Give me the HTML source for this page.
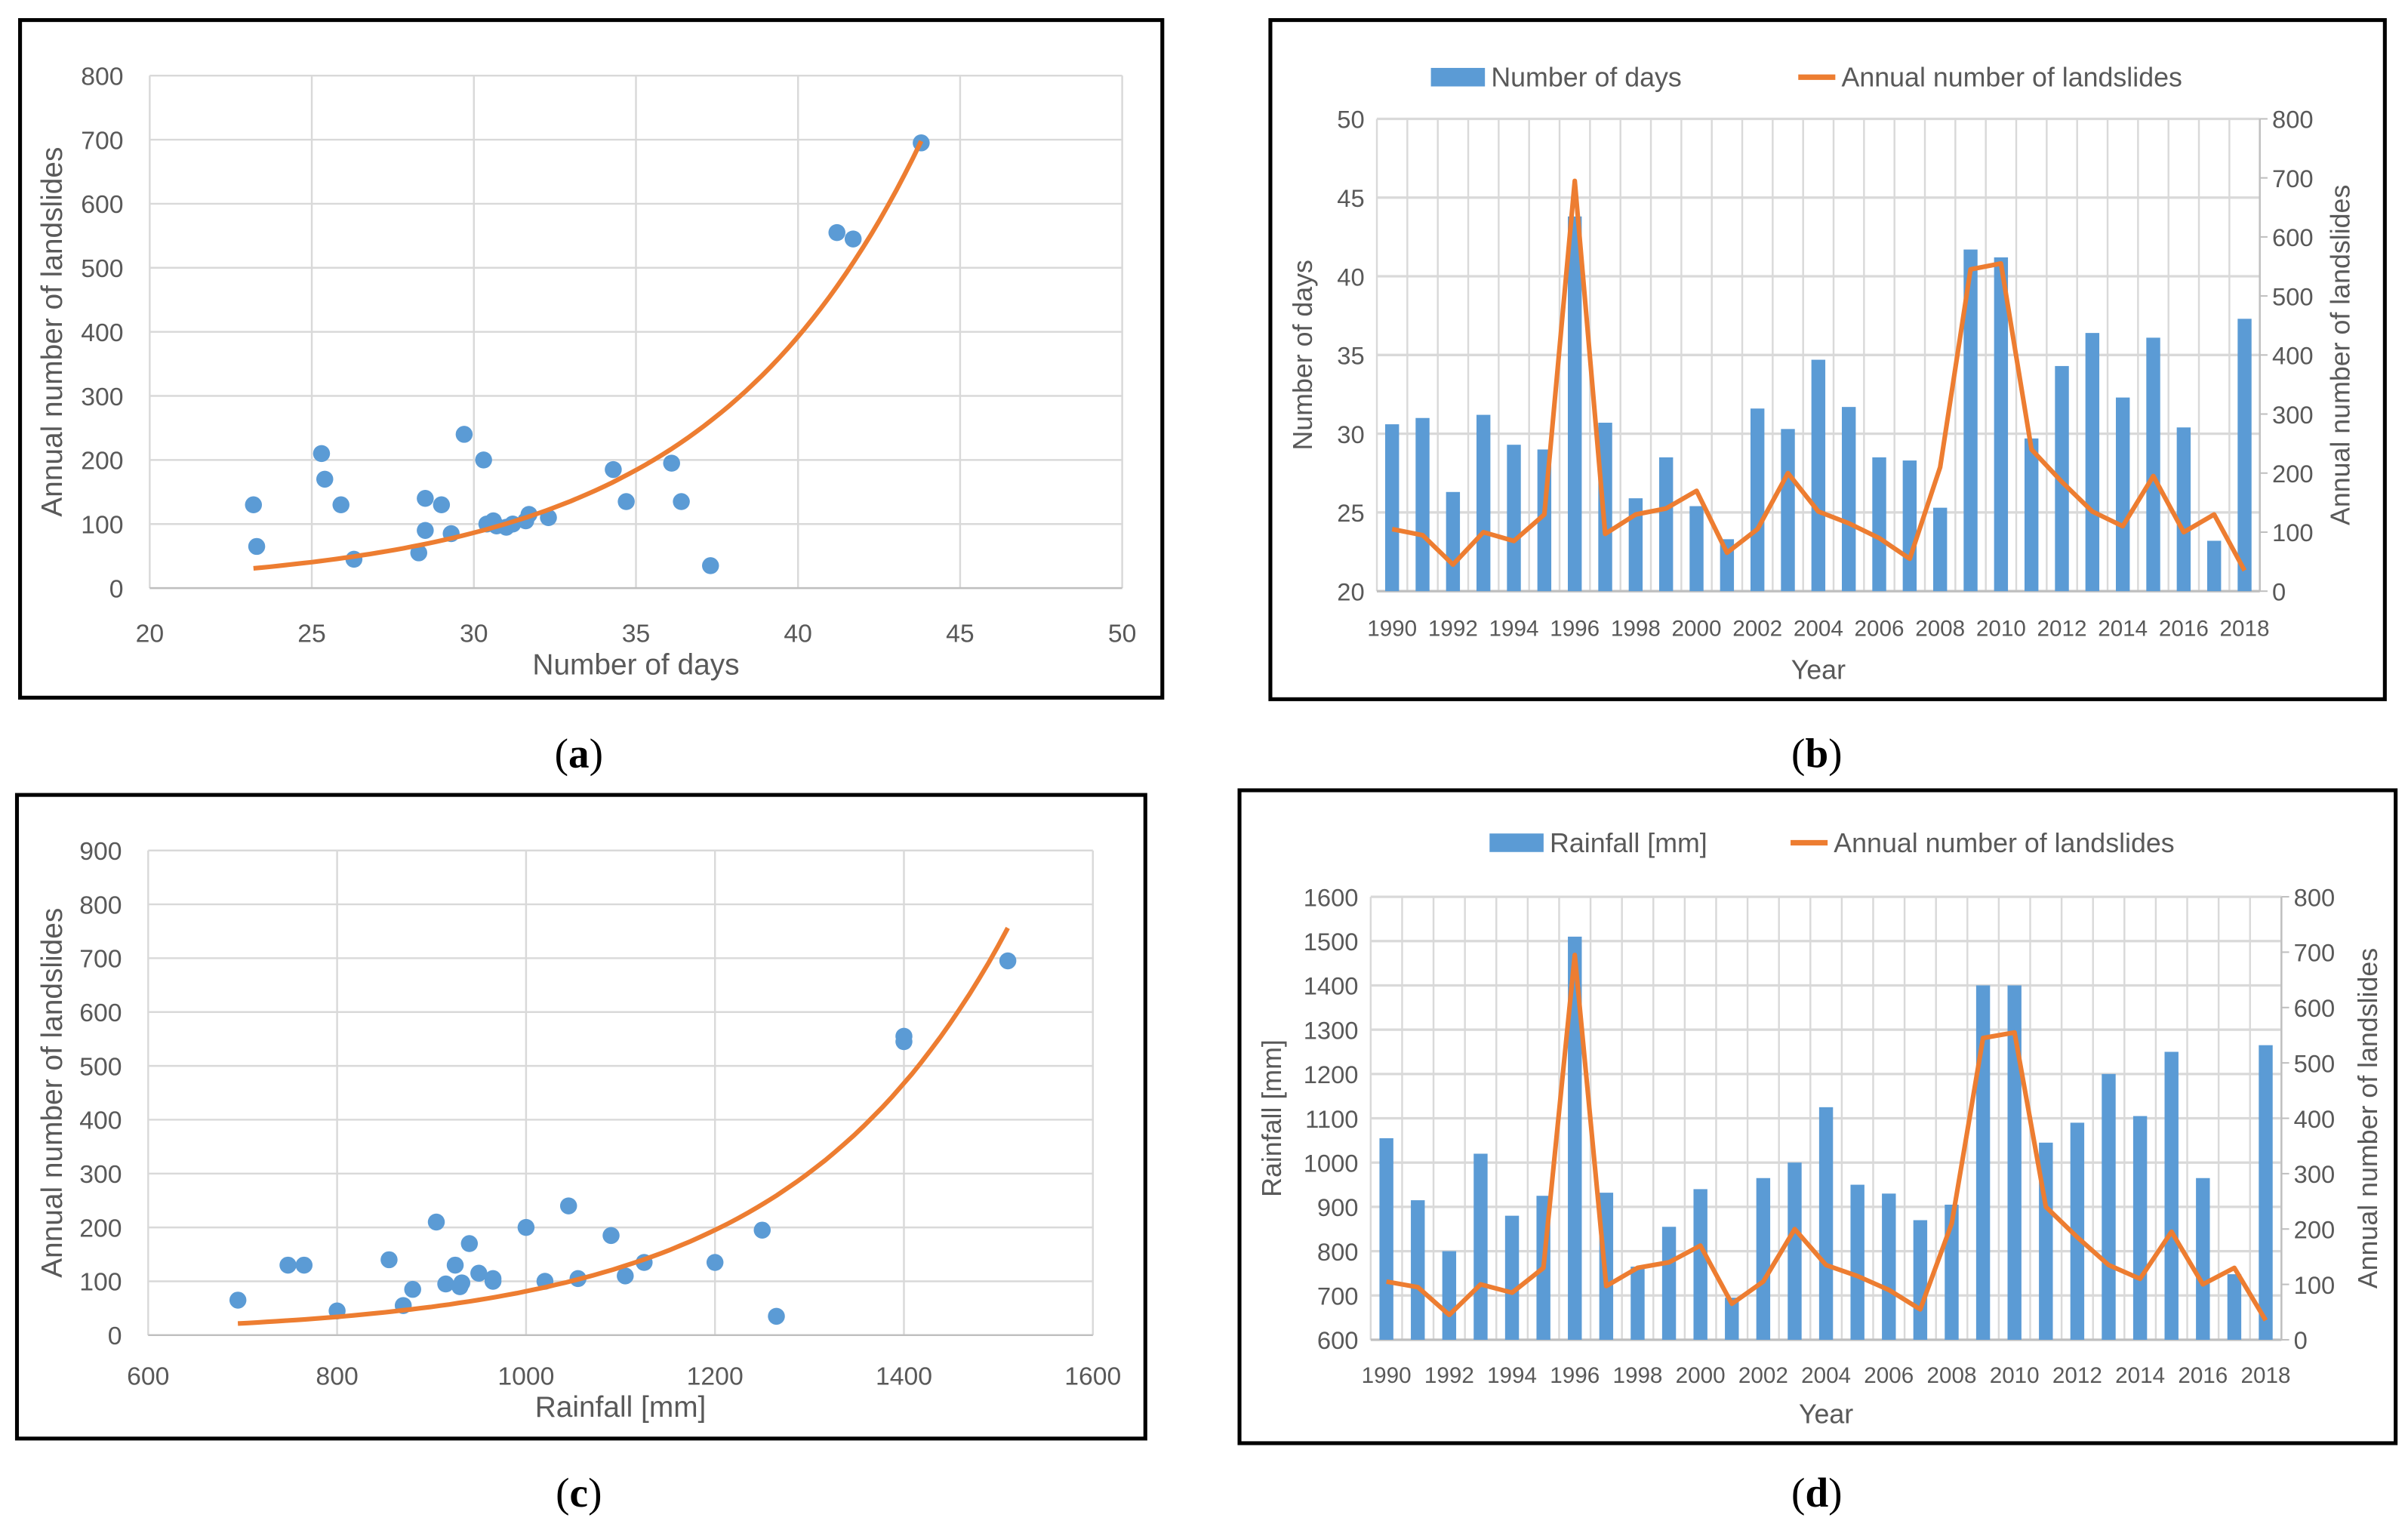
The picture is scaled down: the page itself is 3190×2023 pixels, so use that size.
<!DOCTYPE html>
<html><head><meta charset="utf-8">
<style>
html,body{margin:0;padding:0;background:#fff;}
svg{display:block;}
text{font-family:"Liberation Sans",sans-serif;fill:#595959;}
.lab{font-family:"Liberation Serif",serif;fill:#000;font-size:27px;}
</style></head>
<body>
<svg id="fig" width="3190" height="2023" viewBox="0 0 1560 989.3" preserveAspectRatio="none" xmlns="http://www.w3.org/2000/svg">
<rect x="13" y="13" width="740" height="439" fill="none" stroke="#000" stroke-width="2.5"/>
<rect x="823" y="13" width="722" height="440" fill="none" stroke="#000" stroke-width="2.5"/>
<rect x="11" y="515" width="731" height="417" fill="none" stroke="#000" stroke-width="2.5"/>
<rect x="803" y="512" width="749" height="423" fill="none" stroke="#000" stroke-width="2.5"/>
<text class="lab" x="375" y="497" text-anchor="middle">(<tspan font-weight="bold" style="fill:#000">a</tspan>)</text>
<text class="lab" x="1177" y="497" text-anchor="middle">(<tspan font-weight="bold" style="fill:#000">b</tspan>)</text>
<text class="lab" x="375" y="976" text-anchor="middle">(<tspan font-weight="bold" style="fill:#000">c</tspan>)</text>
<text class="lab" x="1177" y="976" text-anchor="middle">(<tspan font-weight="bold" style="fill:#000">d</tspan>)</text>
<g id="g"></g>
</svg>
<script>
const years = [1990,1991,1992,1993,1994,1995,1996,1997,1998,1999,2000,2001,2002,2003,2004,2005,2006,2007,2008,2009,2010,2011,2012,2013,2014,2015,2016,2017,2018];
const landslides = [105,95,45,100,85,130,695,97,130,140,170,65,105,200,135,115,90,55,210,545,555,240,185,135,110,195,100,130,35];
const days = [30.6,31.0,26.3,31.2,29.3,29.0,43.8,30.7,25.9,28.5,25.4,23.3,31.6,30.3,34.7,31.7,28.5,28.3,25.3,41.7,41.2,29.7,34.3,36.4,32.3,36.1,30.4,23.2,37.3];
const rainfall = [1055,915,800,1020,880,925,1510,932,765,855,940,695,965,1000,1125,950,930,870,905,1400,1400,1045,1090,1200,1105,1250,965,748,1265];
const trendDaysCoef = [0.92, 0.1514];
const trendRainCoef = [1.03, 0.00437];
const daysTicks = [20,25,30,35,40,45,50];
const rainTicks = [600,800,1000,1200,1400,1600];
const landTicksA = [0,100,200,300,400,500,600,700,800];
const landTicksC = [0,100,200,300,400,500,600,700,800,900];

const NS="http://www.w3.org/2000/svg", G=document.getElementById('g');
function mk(tag,attrs,parent){const e=document.createElementNS(NS,tag);for(const k in attrs)e.setAttribute(k,attrs[k]);(parent||G).appendChild(e);return e;}
function txt(x,y,s,size,anchor,parent,rot){const e=mk('text',{x:x,y:y,'font-size':size,'text-anchor':anchor||'middle'},parent);if(rot)e.setAttribute('transform','rotate(-90 '+x+' '+y+')');e.textContent=s;return e;}
function lin(a,b,c0,d){return v=>c0+(v-a)/(b-a)*(d-c0);}

function scatter(id,xs,ys,xTicks,yTicks,px0,px1,py0,py1,coef,xTitle,yTitleX,xTitleY,xtickY){
  const g=mk('g',{});
  
  
  const X=lin(xTicks[0],xTicks[xTicks.length-1],px0,px1), Y=lin(yTicks[0],yTicks[yTicks.length-1],py0,py1);
  xTicks.forEach(t=>{const l=mk('line',{x1:X(t),x2:X(t),y1:py0,y2:py1,stroke:'#D9D9D9','stroke-width':1.2},g);
    
    const tt=txt(X(t),xtickY,String(t),16.5,'middle',g);});
  yTicks.forEach(t=>{const l=mk('line',{x1:px0,x2:px1,y1:Y(t),y2:Y(t),stroke:'#D9D9D9','stroke-width':1.2},g);
    
    const tt=txt(px0-17,Y(t)+6,String(t),16.5,'end',g);});
  const ax=mk('line',{x1:px0,x2:px1,y1:py0,y2:py0,stroke:'#BFBFBF','stroke-width':1.2},g);
  
  xs.forEach((v,i)=>{const c=mk('circle',{cx:X(v),cy:Y(ys[i]),r:5.5,fill:'#5B9BD5'},g);
    });
  let mn=Math.min(...xs),mx=Math.max(...xs),d='';
  for(let k=0;k<=80;k++){const v=mn+(mx-mn)*k/80;const yv=coef[0]*Math.exp(coef[1]*v);d+=(k?'L':'M')+X(v).toFixed(1)+','+Y(yv).toFixed(1);}
  const p=mk('path',{d:d,fill:'none',stroke:'#ED7D31','stroke-width':3},g);
  
  const xt=txt((px0+px1)/2,xTitleY,xTitle,19,'middle',g);
  const yt=txt(yTitleX,(py0+py1)/2,'Annual number of landslides',19,'middle',g,true);
}
scatter('chart-a',days,landslides,daysTicks,landTicksA,97,727,381,49,trendDaysCoef,'Number of days',40,437,416);
scatter('chart-c',rainfall,landslides,rainTicks,landTicksC,96,708,865,551,trendRainCoef,'Rainfall [mm]',40,918,897);

function combo(id,bars,lTicks,px0,px1,py0,py1,legendY,legX,legLabel,legX2,lTitle,lTitleX,rTitleX,yearLabelY,yearTitleY){
  const g=mk('g',{});
  
  
  const n=years.length,cw=(px1-px0)/n;
  const Y=lin(lTicks[0],lTicks[lTicks.length-1],py0,py1), R=lin(0,800,py0,py1);
  for(let i=0;i<=n;i++){const l=mk('line',{x1:px0+i*cw,x2:px0+i*cw,y1:py0,y2:py1,stroke:'#D9D9D9','stroke-width':1.2},g);
    }
  lTicks.forEach(t=>{const l=mk('line',{x1:px0,x2:px1,y1:Y(t),y2:Y(t),stroke:'#D9D9D9','stroke-width':1.6},g);
    
    const tt=txt(px0-8,Y(t)+6,String(t),16,'end',g);});
  for(let t=0;t<=800;t+=100){const tt=txt(px1+8,R(t)+6,String(t),16,'start',g);
    const tk=mk('line',{x1:px1,x2:px1+5,y1:R(t),y2:R(t),stroke:'#BFBFBF'},g);}
  const ax=mk('line',{x1:px0,x2:px1,y1:py0,y2:py0,stroke:'#BFBFBF','stroke-width':1.5},g);
  const ay=mk('line',{x1:px1,x2:px1,y1:py0,y2:py1,stroke:'#BFBFBF','stroke-width':1.2},g);
  bars.forEach((v,i)=>{const cx=px0+(i+0.5)*cw;const r=mk('rect',{x:cx-4.5,y:Y(v),width:9,height:py0-Y(v),fill:'#5B9BD5'},g);
    
    if(i%2===0){const tt=txt(cx,yearLabelY,String(years[i]),14.5,'middle',g);}});
  const pts=landslides.map((v,i)=>(px0+(i+0.5)*cw).toFixed(1)+','+R(v).toFixed(1)).join(' ');
  const pl=mk('polyline',{points:pts,fill:'none',stroke:'#ED7D31','stroke-width':3,'stroke-linejoin':'round'},g);
  
  const lg=mk('g',{},g);
  const lr=mk('rect',{x:legX,y:legendY-6,width:35,height:12,fill:'#5B9BD5'},lg);
  const l1=txt(legX+39,legendY+6,legLabel,17.5,'start',lg);
  const ll=mk('line',{x1:legX2,x2:legX2+24,y1:legendY,y2:legendY,stroke:'#ED7D31','stroke-width':3.5},lg);
  const l2=txt(legX2+28,legendY+6,'Annual number of landslides',17.5,'start',lg);
  const yt=txt(lTitleX,(py0+py1)/2,lTitle,17.5,'middle',g,true);
  const rt=txt(rTitleX,(py0+py1)/2,'Annual number of landslides',17.5,'middle',g,true);
  const xt=txt((px0+px1)/2,yearTitleY,'Year',17.5,'middle',g);
}
combo('chart-b',days,[20,25,30,35,40,45,50],892,1464,383,77,50,927,'Number of days',1165,'Number of days',850,1522,412,440);
combo('chart-d',rainfall,[600,700,800,900,1000,1100,1200,1300,1400,1500,1600],888,1478,868,581,546,965,'Rainfall [mm]',1160,'Rainfall [mm]',830,1540,896,922);
</script>
</body></html>
